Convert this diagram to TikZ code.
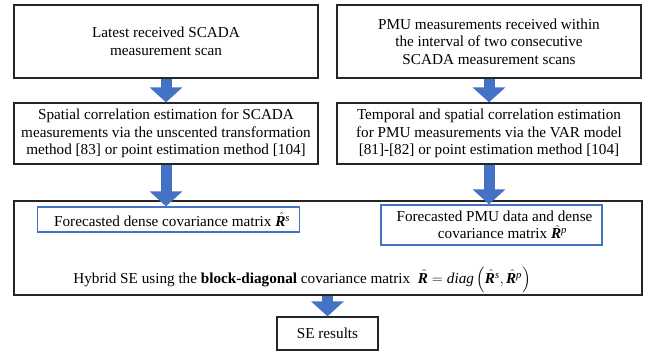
\documentclass[tikz,border=0pt]{standalone}
\usepackage{amsmath}
\usepackage{fontspec}
\setmainfont{Liberation Serif}
\usetikzlibrary{arrows.meta,calc}
\definecolor{oblue}{HTML}{4472C4}
\definecolor{frame}{HTML}{262626}
\newcommand{\Rhat}{\skew{3}\hat{\text{\textbf{\textit{R}}}}}
\newcommand{\supx}[1]{^{\text{\textit{#1}}}}
\begin{document}
\begin{tikzpicture}[x=1pt,y=-1pt,
  box/.style={draw=frame,line width=1.3pt,inner sep=0pt,align=center,font=\fontsize{15.2}{17.5}\selectfont},
  bluebox/.style={draw=oblue,line width=1.3pt,inner sep=0pt,font=\fontsize{15.2}{17.5}\selectfont},
  blockarrow/.style={draw=oblue,line width=11pt,-{Triangle[width=32pt,length=15pt]}}]
\useasboundingbox (0,0) rectangle (646,354);
\node[box,minimum width=304pt,minimum height=73pt] (b1) at (166,41.5) {Latest received SCADA\\measurement scan};
\node[box,minimum width=304pt,minimum height=61pt] (b2) at (166,133.5) {Spatial correlation estimation for SCADA\\measurements via the unscented transformation\\method [83] or point estimation method [104]};
\node[box,minimum width=304pt,minimum height=73pt] (r1) at (489,41.5) {PMU measurements received within\\the interval of two consecutive\\SCADA measurement scans};
\node[box,minimum width=304pt,minimum height=61pt] (r2) at (489,133.5) {Temporal and spatial correlation estimation\\for PMU measurements via the VAR model\\[0pt][81]-[82] or point estimation method [104]};
\node[box,minimum width=628pt,minimum height=94pt] (big) at (328,248) {};
\node[bluebox,minimum width=262pt,minimum height=25pt,anchor=west] (bl) at (37,219.5) {\hspace{7pt}Forecasted dense covariance matrix $\Rhat\supx{s}$};
\node[bluebox,minimum width=221pt,minimum height=40pt,align=center] (br) at (491.5,225) {\hspace{6pt}Forecasted PMU data and dense\\\hspace{22pt}covariance matrix $\Rhat\supx{p}$};
\node[font=\fontsize{15.2}{17.5}\selectfont,inner sep=0pt] (hy) at (302,280) {Hybrid SE using the \textbf{block-diagonal} covariance matrix \ $\Rhat = \textit{diag}\left(\Rhat\supx{s},\Rhat\supx{p}\right)$};
\node[box,minimum width=101pt,minimum height=33pt] (se) at (327.5,333.5) {SE results};
\draw[blockarrow] (b1.south) -- (b2.north);
\draw[blockarrow] (r1.south) -- (r2.north);
\draw[blockarrow] (b2.south) -- (b2.south |- bl.north);
\draw[blockarrow] (r2.south) -- (r2.south |- br.north);
\draw[blockarrow] (se.north |- big.south) -- (se.north);
\end{tikzpicture}
\end{document}
